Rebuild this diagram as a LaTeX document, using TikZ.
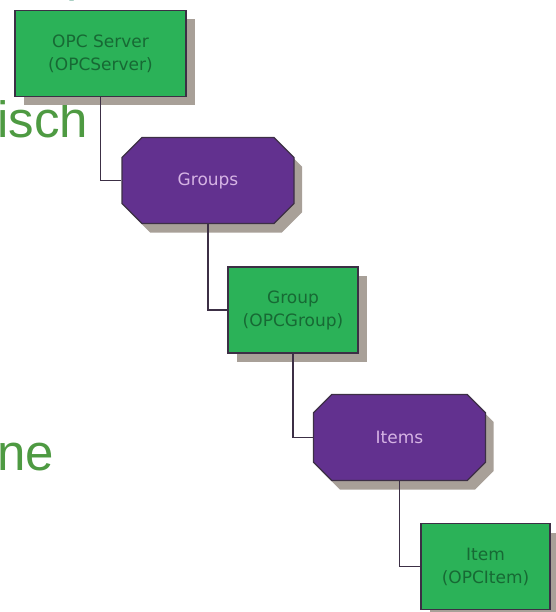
\documentclass[tikz,border=0pt]{standalone}
\usepackage{fontspec}
\newfontfamily\bigfont{Liberation Sans}
\newfontfamily\boxfont{DejaVu Sans}
\usepackage{tikz}
\usetikzlibrary{shapes.misc,shadows}

\definecolor{boxgreen}{RGB}{43,178,88}
\definecolor{boxpurple}{RGB}{98,49,143}
\definecolor{edgegray}{RGB}{60,47,69}
\definecolor{textgreen}{RGB}{23,105,52}
\definecolor{textlilac}{RGB}{214,180,228}
\definecolor{titlegreen}{RGB}{78,154,66}
\definecolor{titleteal}{RGB}{26,128,96}
\definecolor{shadowgray}{RGB}{168,160,152}

\begin{document}
\begin{tikzpicture}[x=1pt,y=-1pt,
    objbox/.style={rectangle,draw=edgegray,line width=1.3pt,fill=boxgreen,
      text=textgreen,font=\boxfont\fontsize{17}{23}\selectfont,align=center,
      minimum height=86pt,inner sep=0pt,
      drop shadow={shadow xshift=9pt,shadow yshift=-9pt,fill=shadowgray,opacity=1}},
    collbox/.style={chamfered rectangle,chamfered rectangle xsep=12pt,
      chamfered rectangle ysep=12pt,draw=edgegray,line width=1.3pt,fill=boxpurple,
      text=textlilac,font=\boxfont\fontsize{17}{23}\selectfont,
      minimum width=172pt,minimum height=86pt,inner sep=0pt,
      drop shadow={shadow xshift=8pt,shadow yshift=-9pt,fill=shadowgray,opacity=1}},
    link/.style={draw=edgegray,line width=1.3pt},
    bigtext/.style={text=titlegreen,font=\bigfont\fontsize{51}{60}\selectfont,
      inner sep=0pt,anchor=base west}]
  \useasboundingbox (0,0) rectangle (555,612);

  % slide text behind the picture
  \node[text=titleteal,font=\bigfont\fontsize{50}{60}\selectfont,inner sep=0pt,
    anchor=base west] (cut) at (66,-9) {p};
  \node[bigtext] (isch) at (-3,138) {isch};
  \node[bigtext] (ne) at (-3,470) {ne};

  % object hierarchy
  \node[objbox,minimum width=171pt] (server) at (100.5,53.5) {OPC Server\\(OPCServer)};
  \node[collbox] (groups) at (208,180.5) {Groups};
  \node[objbox,minimum width=130pt] (group) at (293,310) {Group\\(OPCGroup)};
  \node[collbox] (items) at (399.5,437.5) {Items};
  \node[objbox,minimum width=129pt] (item) at (485.5,566.5) {Item\\(OPCItem)};

  \draw[link] (server.south) |- (groups.west);
  \draw[link] (groups.south) |- (group.west);
  \draw[link] (group.south) |- (items.west);
  \draw[link] (items.south) |- (item.west);
\end{tikzpicture}
\end{document}
